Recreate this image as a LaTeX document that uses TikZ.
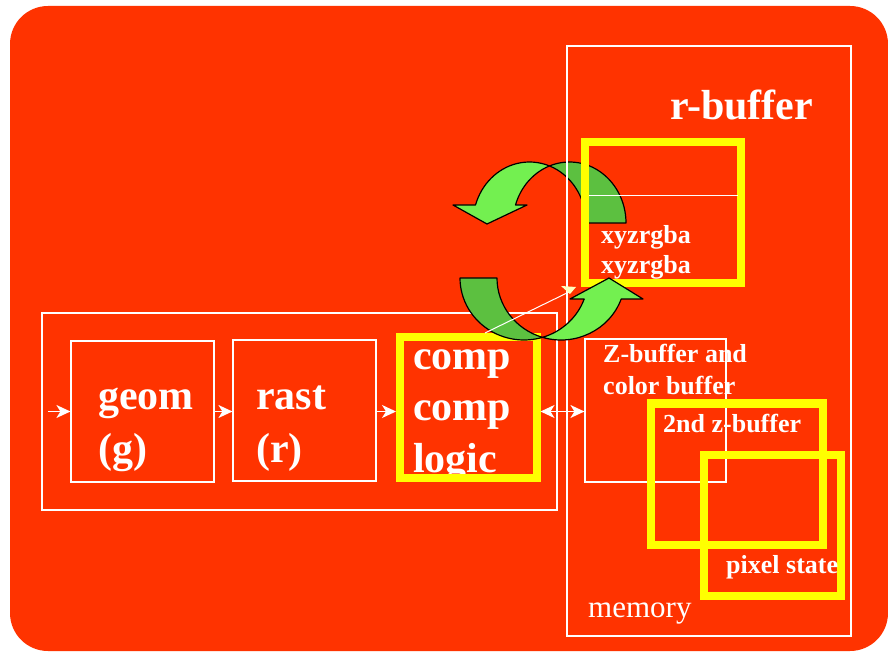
\documentclass[tikz,border=0pt]{standalone}
\usepackage{fontspec}
\setmainfont{Liberation Serif}
\usetikzlibrary{arrows.meta}
\definecolor{bgred}{RGB}{255,51,0}
\definecolor{ylw}{RGB}{255,255,0}
\definecolor{lgreen}{RGB}{115,240,80}
\definecolor{dgreen}{RGB}{92,192,64}
\definecolor{paley}{RGB}{255,255,190}
\tikzset{
  wbox/.style={draw=white, line width=1.2pt, inner sep=0pt},
  ybox/.style={draw=ylw, line width=8pt, inner sep=0pt},
  bigtxt/.style={text=white, font=\fontsize{42}{50}\selectfont\bfseries, anchor=base west, inner sep=0pt},
  midtxt/.style={text=white, font=\fontsize{26}{31}\selectfont\bfseries, anchor=base west, inner sep=0pt},
  memtxt/.style={text=white, font=\fontsize{31}{36}\selectfont, anchor=base west, inner sep=0pt},
  flow/.style={draw=white, line width=1.5pt, -{Stealth[length=14pt,width=13pt,inset=4pt]}},
  dflow/.style={draw=white, line width=1.5pt, {Stealth[length=14pt,width=13pt,inset=4pt]}-{Stealth[length=14pt,width=13pt,inset=4pt]}},
  garrow/.style={draw=black, line width=1.2pt, line join=round},
}
\begin{document}
\begin{tikzpicture}[x=1pt,y=1pt]
\useasboundingbox (0,0) rectangle (888,651);
% background
\fill[bgred, rounded corners=38pt] (10,0) rectangle (888,645);

% pipeline
\node[wbox, minimum width=515pt, minimum height=197pt] (pipe) at (299.5,239.5) {};
\node[wbox, minimum width=143pt, minimum height=141pt] (geom) at (142.5,239.5) {};
\node[wbox, minimum width=143pt, minimum height=141pt] (rast) at (304.5,240.5) {};
\node[bigtxt] (tgeom1) at (98,241) {geom};
\node[bigtxt] (tgeom2) at (98,189) {(g)};
\node[bigtxt] (trast1) at (256,241) {rast};
\node[bigtxt] (trast2) at (256,189) {(r)};
\node[bigtxt] (tcomp1) at (413,281) {comp};
\node[bigtxt] (tcomp2) at (413,231) {comp};
\node[bigtxt] (tcomp3) at (413,179) {logic};
\node[ybox, minimum width=136.5pt, minimum height=140.5pt] (comp) at (468.25,243.25) {};
\node[wbox, minimum width=141pt, minimum height=143pt] (zbuf) at (655.5,240.5) {};
\node[midtxt] (tz1) at (603,288) {Z-buffer and};
\node[midtxt] (tz2) at (603,256) {color buffer};

% top green arrow (behind memory box)
\path[garrow, fill=dgreen] (626,428) arc[start angle=0, end angle=110.73, x radius=56.5, y radius=61]
  arc[start angle=69.27, end angle=0, x radius=56.5, y radius=61] -- cycle;
\path[garrow, fill=lgreen] (475.5,446) arc[start angle=162.84, end angle=69.27, x radius=56.5, y radius=61]
  arc[start angle=110.73, end angle=162.84, x radius=56.5, y radius=61]
  -- (527,446) -- (487,427) -- (453,446) -- cycle;

% memory
\node[wbox, minimum width=284pt, minimum height=590pt] (mem) at (709,310) {};
\node[bigtxt] (trbuf) at (670,531) {r-buffer};
\node[ybox, minimum width=156pt, minimum height=141pt] (rbuf) at (663,438.5) {};
\coordinate (sl) at (589,455);
\coordinate (sr) at (738,455);
\draw[white, line width=1pt] (sl) -- (sr);
\node[midtxt] (tx1) at (601,407) {xyzrgba};
\node[midtxt] (tx2) at (601,377) {xyzrgba};
\node[ybox, minimum width=172pt, minimum height=141.5pt] (zb2) at (737,176.75) {};
\node[ybox, minimum width=137pt, minimum height=141.5pt] (pix) at (772,125.75) {};
\node[midtxt] (tzb2) at (663,219) {2nd z-buffer};
\node[midtxt] (tpix) at (726,78) {pixel state};
\node[memtxt] (tmem) at (588,34) {memory};

% bottom green arrow (in front)
\path[garrow, fill=dgreen] (460,373) arc[start angle=180, end angle=286.8, x radius=64, y radius=62]
  arc[start angle=253.2, end angle=180, x radius=64, y radius=62] -- cycle;
\path[garrow, fill=lgreen] (584.2,352) arc[start angle=340.2, end angle=286.8, x radius=64, y radius=62]
  arc[start angle=253.2, end angle=340.2, x radius=64, y radius=62]
  -- (643,352) -- (609,373) -- (570,352) -- cycle;

% diagonal thin arrow
\coordinate (dstart) at (485,318);
\coordinate (dend) at (571,360);
\draw[white, line width=1pt] (dstart) -- (dend);
\fill[paley] (561,365) -- (576,364) -- (570,357) -- cycle;

% flow arrows
\coordinate (inp) at (48,239.5);
\draw[flow] (inp) -- (geom.west);
\draw[flow] (geom.east) -- (rast.west |- geom.east);
\draw[flow] (rast.east |- geom.east) -- (comp.west |- geom.east);
\draw[dflow] (comp.east |- geom.east) -- (zbuf.west |- geom.east);
\end{tikzpicture}
\end{document}
